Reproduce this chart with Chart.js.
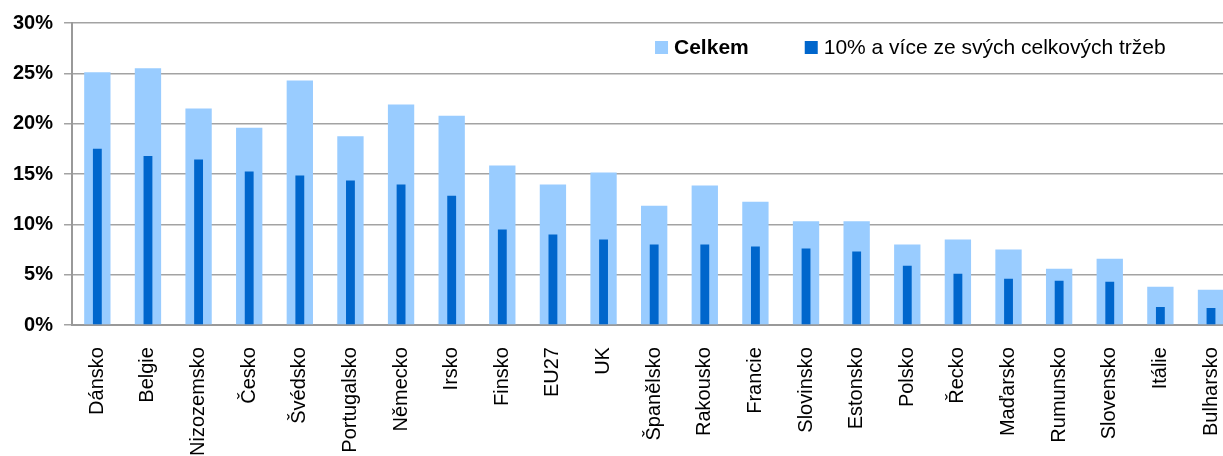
<!DOCTYPE html>
<html>
<head>
<meta charset="utf-8">
<script src="https://cdn.jsdelivr.net/npm/chart.js@4"></script>
<style>
  html, body { margin: 0; padding: 0; background: #fff; overflow: hidden; }
  #wrap { width: 1249px; height: 470px; }
</style>
</head>
<body>
<div id="wrap"><canvas id="salesChart"></canvas></div>
<script>
const countries = ["Dánsko", "Belgie", "Nizozemsko", "Česko", "Švédsko", "Portugalsko", "Německo",
  "Irsko", "Finsko", "EU27", "UK", "Španělsko", "Rakousko", "Francie", "Slovinsko", "Estonsko",
  "Polsko", "Řecko", "Maďarsko", "Rumunsko", "Slovensko", "Itálie", "Bulharsko"];

const total = [25.1, 25.5, 21.5, 19.6, 24.3, 18.75, 21.9, 20.8, 15.85, 13.95, 15.15, 11.85, 13.85,
  12.25, 10.3, 10.3, 8.0, 8.5, 7.5, 5.6, 6.6, 3.8, 3.5];

const over10 = [17.5, 16.8, 16.45, 15.25, 14.85, 14.35, 13.95, 12.85, 9.5, 9.0, 8.5, 8.0, 8.0,
  7.8, 7.6, 7.3, 5.9, 5.1, 4.6, 4.4, 4.3, 1.8, 1.7];

const yTicks = [0, 5, 10, 15, 20, 25, 30];

const FONT = "'Liberation Sans', Arial, sans-serif";
Chart.defaults.font.family = FONT;
Chart.defaults.color = "#000";

// legend sits inside the plot, top right, on top of the bars
const insideLegend = {
  id: "insideLegend",
  afterDatasetsDraw(chart) {
    const c = chart.ctx;
    const area = chart.chartArea;
    const y = area.top + 24;
    let x = area.left + 583;
    c.save();
    c.textBaseline = "middle";
    chart.data.datasets.forEach((ds, i) => {
      c.fillStyle = ds.backgroundColor;
      c.fillRect(x, y - 6, 13, 13);
      x += 19;
      c.font = (i === 0 ? "bold " : "") + "21px " + FONT;
      c.fillStyle = "#000";
      c.fillText(ds.label, x, y + 1);
      x += c.measureText(ds.label).width + 56;
    });
    c.restore();
  }
};

const ctx = document.getElementById("salesChart").getContext("2d");
new Chart(ctx, {
  type: "bar",
  data: {
    labels: countries,
    datasets: [{
      label: "Celkem",
      data: total,
      backgroundColor: "#99CCFF",
      barPercentage: 0.52,
      categoryPercentage: 1,
      grouped: false,
      order: 1
    }, {
      label: "10% a více ze svých celkových tržeb",
      data: over10,
      backgroundColor: "#0066CC",
      barPercentage: 0.175,
      categoryPercentage: 1,
      grouped: false,
      order: 0
    }]
  },
  options: {
    responsive: true,
    maintainAspectRatio: false,
    animation: false,
    layout: { padding: { top: 16, left: 2 } },
    plugins: {
      tooltip: { enabled: false },
      legend: { display: false }
    },
    scales: {
      x: {
        grid: { display: false },
        border: { display: true, color: "#999", width: 2 },
        ticks: {
          minRotation: 90,
          maxRotation: 90,
          autoSkip: false,
          padding: 14,
          font: { size: 20 }
        }
      },
      y: {
        min: 0,
        max: 30,
        afterBuildTicks: axis => { axis.ticks = yTicks.map(v => ({ value: v })); },
        grid: { color: "#a3a3a3", lineWidth: 1.5, tickLength: 8 },
        border: { color: "#999", width: 2 },
        ticks: {
          padding: 11,
          font: { size: 20, weight: "bold" },
          callback: v => v + "%"
        }
      }
    }
  },
  plugins: [insideLegend]
});
</script>
</body>
</html>
